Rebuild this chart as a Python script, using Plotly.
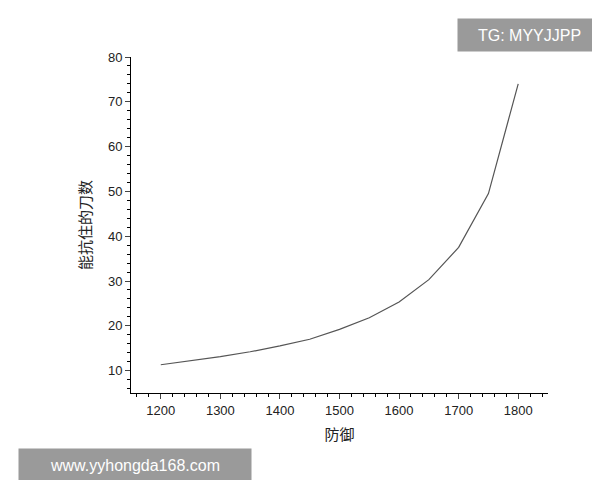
import plotly.graph_objects as go

defense = [1200, 1250, 1300, 1350, 1400, 1450, 1500, 1550, 1600, 1650, 1700, 1750, 1800]
hits = [11.3, 12.2, 13.1, 14.2, 15.5, 17.0, 19.2, 21.8, 25.3, 30.3, 37.5, 49.5, 74.0]

fig = go.Figure(go.Scatter(x=defense, y=hits, mode="lines",
                           line=dict(color="#555555", width=1.2)))
ax = dict(showline=True, linecolor="black", linewidth=1, ticks="outside",
          ticklen=5, showgrid=False, zeroline=False, mirror=False, automargin=False,
          tickfont=dict(family="Liberation Sans, Arial", size=13, color="#222"),
          minor=dict(ticks="outside", ticklen=3, tickcolor="black"))
fig.update_xaxes(range=[1150, 1850], dtick=100, tick0=1200,
                 title=dict(text="防御", standoff=12, font=dict(family="Noto Sans CJK SC", size=15, color="#222")),
                 **ax)
fig.update_yaxes(range=[5, 80], dtick=10, tick0=10,
                 title=dict(text="能抗住的刀数", standoff=12, font=dict(family="Noto Sans CJK SC", size=15, color="#222")),
                 **ax)
fig.update_layout(width=600, height=480, plot_bgcolor="white", paper_bgcolor="white",
                  margin=dict(l=123, r=60, t=49, b=95), showlegend=False)

def px_x(p): return (p - 123) / 417
def px_y(p): return (385 - p) / 336

fig.add_annotation(xref="paper", yref="paper", x=px_x(449), y=px_y(10),
                   xanchor="left", yanchor="top", width=141, height=30,
                   bgcolor="#9a9a9a", text="TG: MYYJJPP", showarrow=False,
                   font=dict(family="Liberation Sans, Arial", size=16, color="white"))
fig.add_annotation(xref="paper", yref="paper", x=px_x(10), y=px_y(440),
                   xanchor="left", yanchor="top", width=230, height=30,
                   bgcolor="#9a9a9a", text="www.yyhongda168.com", showarrow=False,
                   font=dict(family="Liberation Sans, Arial", size=16, color="white"))
fig.write_html("out.html")
